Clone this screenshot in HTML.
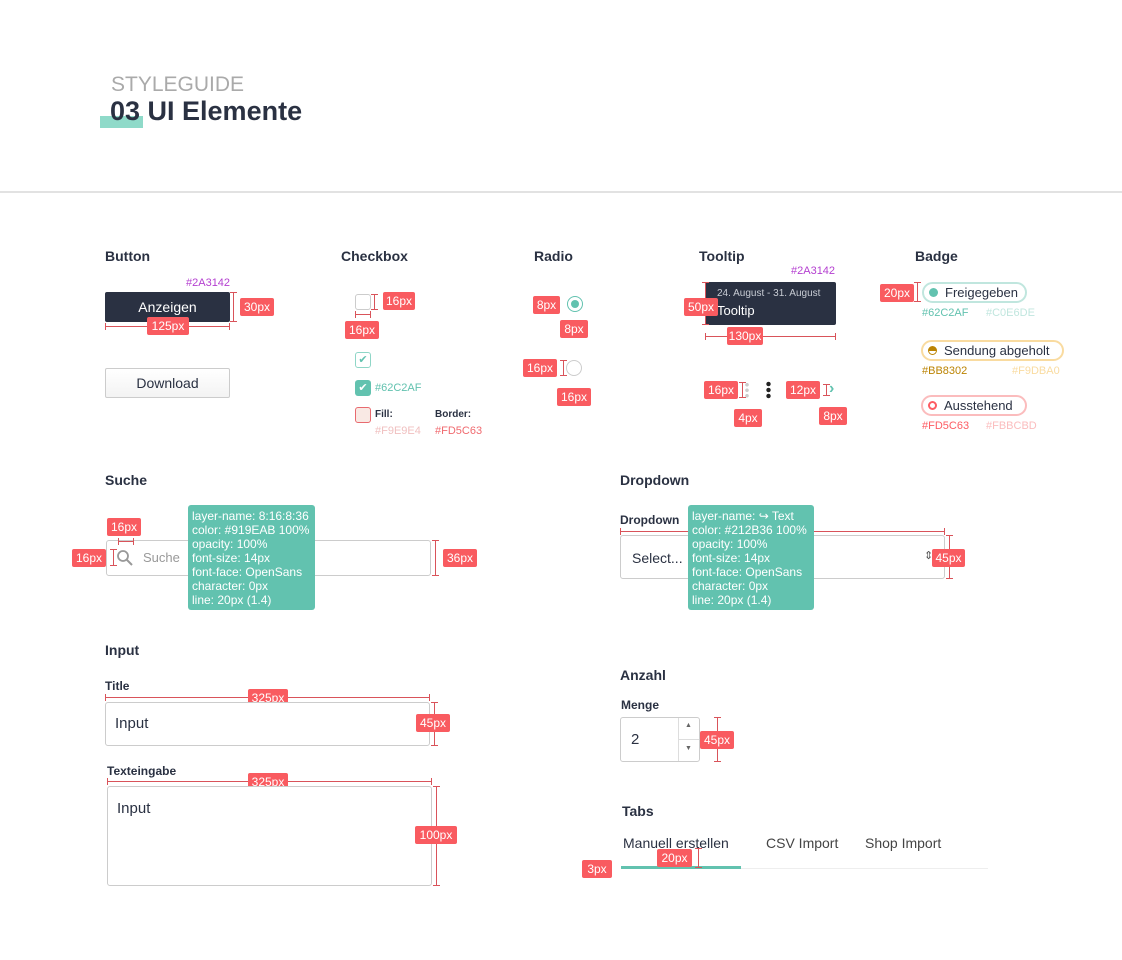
<!DOCTYPE html>
<html><head><meta charset="utf-8">
<style>
*{margin:0;padding:0;box-sizing:border-box}
body{width:1122px;height:960px;background:#fff;position:relative;overflow:hidden;font-family:"Liberation Sans",sans-serif;color:#2a3142}
.a{position:absolute;white-space:nowrap}
.h{position:absolute;font-weight:bold;font-size:14px;color:#2a3142;white-space:nowrap}
.l{position:absolute;background:#f95b60;color:#fff;font-size:12px;height:18px;line-height:18px;text-align:center;border-radius:2px}
.vd{position:absolute;width:7px;border-top:1px solid #d9535a;border-bottom:1px solid #d9535a}
.vd:after{content:"";position:absolute;left:3px;top:0;bottom:0;border-left:1px solid #d9535a}
.hd{position:absolute;height:7px;border-left:1px solid #d9535a;border-right:1px solid #d9535a}
.hd:after{content:"";position:absolute;top:3px;left:0;right:0;border-top:1px solid #d9535a}
.small{font-size:11px}
.tip{position:absolute;background:#62c2af;color:#fff;font-size:12px;line-height:14px;padding:4px 4px;border-radius:3px}
.box{position:absolute;border:1px solid #ccc;border-radius:3px;background:#fff}
</style></head><body>
<div class="a" style="left:111px;top:73px;font-size:21px;color:#aaa">STYLEGUIDE</div>
<div class="a" style="left:100px;top:116px;width:43px;height:12px;background:#8fdac9"></div>
<div class="a" style="left:110px;top:96px;font-size:27px;font-weight:bold;color:#2a3142">03 UI Elemente</div>
<div class="a" style="left:0;top:191px;width:1122px;height:2px;background:#e2e2e2"></div>

<div class="h" style="left:105px;top:248px">Button</div>
<div class="h" style="left:341px;top:248px">Checkbox</div>
<div class="h" style="left:534px;top:248px">Radio</div>
<div class="h" style="left:699px;top:248px">Tooltip</div>
<div class="h" style="left:915px;top:248px">Badge</div>

<!-- Button -->
<div class="a small" style="left:186px;top:277px;color:#b43fd0">#2A3142</div>
<div class="a" style="left:105px;top:292px;width:125px;height:30px;background:#2a3142;border-radius:2px;color:#fff;font-size:14px;text-align:center;line-height:30px">Anzeigen</div>
<div class="vd" style="left:230px;top:292px;height:30px"></div>
<div class="l" style="left:240px;top:298px;width:34px">30px</div>
<div class="hd" style="left:105px;top:323px;width:125px"></div>
<div class="l" style="left:147px;top:317px;width:42px">125px</div>
<div class="a" style="left:105px;top:368px;width:125px;height:30px;border:1px solid #ccc;border-radius:2px;background:linear-gradient(#fff,#f3f3f3);font-size:14px;text-align:center;line-height:28px;color:#2a3142">Download</div>

<!-- Checkbox -->
<div class="a" style="left:355px;top:294px;width:16px;height:16px;border:1px solid #ccc;border-radius:3px"></div>
<div class="vd" style="left:371px;top:294px;height:16px"></div>
<div class="l" style="left:383px;top:292px;width:32px">16px</div>
<div class="hd" style="left:355px;top:311px;width:16px"></div>
<div class="l" style="left:345px;top:321px;width:34px">16px</div>
<div class="a" style="left:355px;top:352px;width:16px;height:16px;border:1px solid #8fd6c7;border-radius:3px;color:#62c2af;font-size:11px;text-align:center;line-height:14px">✔</div>
<div class="a" style="left:355px;top:380px;width:16px;height:16px;background:#62c2af;border-radius:3px;color:#fff;font-size:11px;text-align:center;line-height:16px">✔</div>
<div class="a small" style="left:375px;top:382px;color:#62c2af">#62C2AF</div>
<div class="a" style="left:355px;top:407px;width:16px;height:16px;background:#f9e9e4;border:1px solid #e86a6f;border-radius:3px"></div>
<div class="a" style="left:375px;top:409px;font-size:10px;font-weight:bold">Fill:</div>
<div class="a" style="left:435px;top:409px;font-size:10px;font-weight:bold">Border:</div>
<div class="a small" style="left:375px;top:425px;color:#f0c0c0">#F9E9E4</div>
<div class="a small" style="left:435px;top:425px;color:#f06a6f">#FD5C63</div>

<!-- Radio -->
<div class="a" style="left:567px;top:296px;width:16px;height:16px;border:1px solid #62c2af;border-radius:50%"></div>
<div class="a" style="left:571px;top:300px;width:8px;height:8px;background:#62c2af;border-radius:50%"></div>
<div class="l" style="left:533px;top:296px;width:27px">8px</div>
<div class="l" style="left:560px;top:320px;width:28px">8px</div>
<div class="a" style="left:566px;top:360px;width:16px;height:16px;border:1px solid #ccc;border-radius:50%"></div>
<div class="vd" style="left:560px;top:360px;height:16px"></div>
<div class="l" style="left:523px;top:359px;width:34px">16px</div>
<div class="l" style="left:557px;top:388px;width:34px">16px</div>

<!-- Tooltip -->
<div class="a small" style="left:791px;top:265px;color:#b43fd0">#2A3142</div>
<div class="a" style="left:705px;top:282px;width:131px;height:43px;background:#2a3142;border-radius:2px"></div>
<div class="a" style="left:717px;top:288px;font-size:10px;color:#c8ccd4">24. August - 31. August</div>
<div class="a" style="left:717px;top:303px;font-size:13px;color:#fff">Tooltip</div>
<div class="vd" style="left:702px;top:282px;height:43px"></div>
<div class="l" style="left:684px;top:298px;width:34px">50px</div>
<div class="hd" style="left:705px;top:333px;width:131px"></div>
<div class="l" style="left:727px;top:327px;width:36px">130px</div>
<div class="a" style="left:745px;top:382px;width:4px;height:16px;background:radial-gradient(circle,#ccc 1.6px,transparent 2px) 0 0/4px 5.5px"></div>
<div class="vd" style="left:739px;top:382px;height:16px"></div>
<div class="l" style="left:704px;top:381px;width:34px">16px</div>
<div class="l" style="left:734px;top:409px;width:28px">4px</div>
<div class="a" style="left:766px;top:381px;width:5px;height:18px;background:radial-gradient(circle,#222 2px,transparent 2.4px) 0 0/5px 6px"></div>
<div class="vd" style="left:823px;top:384px;height:12px"></div>
<div class="l" style="left:786px;top:381px;width:34px">12px</div>
<div class="a" style="left:829px;top:380px;font-size:16px;color:#62c2af;font-weight:bold">›</div>
<div class="l" style="left:819px;top:407px;width:28px">8px</div>

<!-- Badges -->
<div class="vd" style="left:914px;top:282px;height:20px"></div>
<div class="l" style="left:880px;top:284px;width:34px">20px</div>
<div class="a" style="left:922px;top:282px;width:105px;height:21px;border:2px solid #c0e6de;border-radius:11px;font-size:13px;line-height:17px;padding-left:21px">Freigegeben</div>
<div class="a" style="left:929px;top:288px;width:9px;height:9px;border-radius:50%;background:#62c2af"></div>
<div class="a small" style="left:922px;top:307px;color:#62c2af">#62C2AF</div>
<div class="a small" style="left:986px;top:307px;color:#c0e6de">#C0E6DE</div>
<div class="a" style="left:921px;top:340px;width:143px;height:21px;border:2px solid #f9dba0;border-radius:11px;font-size:13px;line-height:17px;padding-left:21px">Sendung abgeholt</div>
<div class="a" style="left:928px;top:346px;width:9px;height:9px;border-radius:50%;border:1.5px solid #bb8302;background:linear-gradient(#bb8302 55%,#fff 55%)"></div>
<div class="a small" style="left:922px;top:365px;color:#bb8302">#BB8302</div>
<div class="a small" style="left:1012px;top:365px;color:#f9dba0">#F9DBA0</div>
<div class="a" style="left:921px;top:395px;width:106px;height:21px;border:2px solid #fbbcbd;border-radius:11px;font-size:13px;line-height:17px;padding-left:21px">Ausstehend</div>
<div class="a" style="left:928px;top:401px;width:9px;height:9px;border-radius:50%;border:2px solid #fd5c63"></div>
<div class="a small" style="left:922px;top:420px;color:#fd5c63">#FD5C63</div>
<div class="a small" style="left:986px;top:420px;color:#fbbcbd">#FBBCBD</div>

<!-- Suche -->
<div class="h" style="left:105px;top:472px">Suche</div>
<div class="box" style="left:106px;top:540px;width:325px;height:36px"></div>
<svg class="a" style="left:116px;top:549px" width="18" height="18"><circle cx="7" cy="7" r="5" stroke="#999" stroke-width="1.8" fill="none"/><line x1="11" y1="11" x2="16" y2="16" stroke="#999" stroke-width="2"/></svg>
<div class="a" style="left:143px;top:550px;font-size:13px;color:#999">Suche</div>
<div class="hd" style="left:118px;top:538px;width:16px"></div>
<div class="l" style="left:107px;top:518px;width:34px">16px</div>
<div class="vd" style="left:110px;top:549px;height:17px"></div>
<div class="l" style="left:72px;top:549px;width:34px">16px</div>
<div class="vd" style="left:432px;top:540px;height:36px"></div>
<div class="l" style="left:443px;top:549px;width:34px">36px</div>
<div class="tip" style="left:188px;top:505px;width:127px;height:105px">layer-name: 8:16:8:36<br>color: #919EAB 100%<br>opacity: 100%<br>font-size: 14px<br>font-face: OpenSans<br>character: 0px<br>line: 20px (1.4)</div>

<!-- Dropdown -->
<div class="h" style="left:620px;top:472px">Dropdown</div>
<div class="a" style="left:620px;top:513px;font-size:12px;font-weight:bold">Dropdown</div>
<div class="hd" style="left:620px;top:528px;width:325px"></div>
<div class="box" style="left:620px;top:535px;width:325px;height:44px"></div>
<div class="a" style="left:632px;top:550px;font-size:14px">Select...</div>
<div class="a" style="left:924px;top:549px;font-size:11px;color:#555">⇕</div>
<div class="vd" style="left:946px;top:535px;height:44px"></div>
<div class="l" style="left:932px;top:549px;width:33px">45px</div>
<div class="tip" style="left:688px;top:505px;width:126px;height:105px">layer-name: ↪ Text<br>color: #212B36 100%<br>opacity: 100%<br>font-size: 14px<br>font-face: OpenSans<br>character: 0px<br>line: 20px (1.4)</div>

<!-- Input -->
<div class="h" style="left:105px;top:642px">Input</div>
<div class="a" style="left:105px;top:679px;font-size:12px;font-weight:bold">Title</div>
<div class="hd" style="left:105px;top:694px;width:325px"></div>
<div class="l" style="left:248px;top:689px;width:40px">325px</div>
<div class="box" style="left:105px;top:702px;width:325px;height:44px"></div>
<div class="a" style="left:115px;top:715px;font-size:15px">Input</div>
<div class="vd" style="left:431px;top:702px;height:44px"></div>
<div class="l" style="left:416px;top:714px;width:34px">45px</div>
<div class="a" style="left:107px;top:764px;font-size:12px;font-weight:bold">Texteingabe</div>
<div class="hd" style="left:107px;top:778px;width:325px"></div>
<div class="l" style="left:248px;top:773px;width:40px">325px</div>
<div class="box" style="left:107px;top:786px;width:325px;height:100px"></div>
<div class="a" style="left:117px;top:800px;font-size:15px">Input</div>
<div class="vd" style="left:433px;top:786px;height:100px"></div>
<div class="l" style="left:415px;top:826px;width:42px">100px</div>

<!-- Anzahl -->
<div class="h" style="left:620px;top:667px">Anzahl</div>
<div class="a" style="left:621px;top:698px;font-size:12px;font-weight:bold">Menge</div>
<div class="box" style="left:620px;top:717px;width:80px;height:45px"></div>
<div class="a" style="left:678px;top:718px;width:1px;height:43px;background:#ddd"></div>
<div class="a" style="left:679px;top:739px;width:20px;height:1px;background:#ddd"></div>
<div class="a" style="left:685px;top:722px;font-size:7px;color:#666">▲</div>
<div class="a" style="left:685px;top:745px;font-size:7px;color:#666">▼</div>
<div class="a" style="left:631px;top:731px;font-size:15px">2</div>
<div class="vd" style="left:714px;top:717px;height:45px"></div>
<div class="l" style="left:700px;top:731px;width:34px">45px</div>

<!-- Tabs -->
<div class="h" style="left:622px;top:803px">Tabs</div>
<div class="a" style="left:623px;top:835px;font-size:14px;color:#2a3142">Manuell erstellen</div>
<div class="a" style="left:766px;top:835px;font-size:14px;color:#444">CSV Import</div>
<div class="a" style="left:865px;top:835px;font-size:14px;color:#444">Shop Import</div>
<div class="a" style="left:621px;top:868px;width:367px;height:1px;background:#eee"></div>
<div class="a" style="left:621px;top:866px;width:120px;height:3px;background:#62c2af"></div>
<div class="l" style="left:582px;top:860px;width:30px">3px</div>
<div class="vd" style="left:695px;top:848px;height:20px"></div>
<div class="l" style="left:657px;top:849px;width:35px">20px</div>
</body></html>
